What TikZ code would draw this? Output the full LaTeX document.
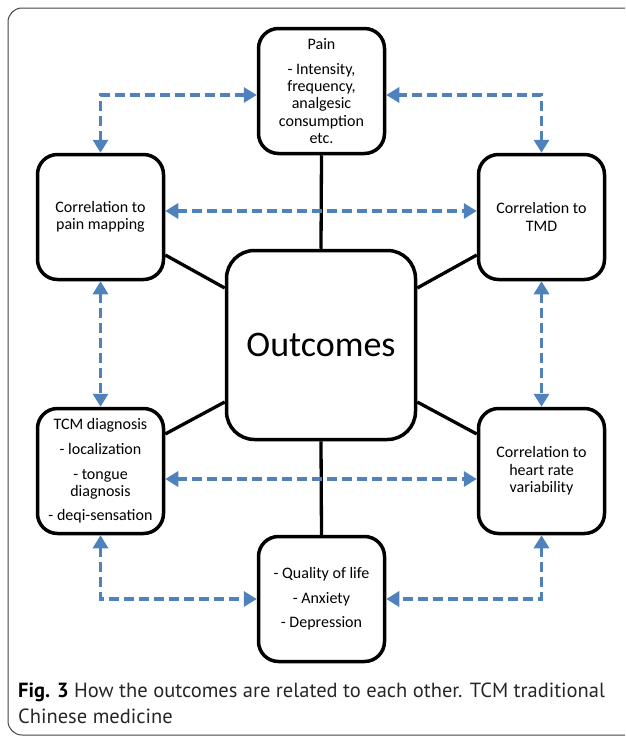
\documentclass[tikz,border=0pt]{standalone}
\usepackage{fontspec}
\setmainfont{Carlito}
\newfontfamily\capfont{PT Sans}
\usetikzlibrary{arrows.meta}
\definecolor{dblue}{HTML}{4F81BD}
\definecolor{framegray}{HTML}{444444}
\begin{document}
\begin{tikzpicture}[x=1pt,y=-1pt,
  box/.style={draw=black, line width=3.5pt, rounded corners=20pt, align=center,
    inner sep=0pt, minimum width=126pt, minimum height=125pt,
    font=\fontsize{16}{17.3}\selectfont},
  link/.style={draw=black, line width=3.3pt},
  darr/.style={draw=dblue, line width=3.3pt, dash pattern=on 10pt off 5pt,
    {Triangle[length=13pt,width=15pt]}-{Triangle[length=13pt,width=15pt]}},
  captext/.style={anchor=base west, inner sep=0pt, text=black!85,
    font=\capfont\fontsize{20.5}{26}\selectfont},
]
\useasboundingbox (0,0) rectangle (625,736);
\begin{scope}
  \clip (0,0) rectangle (625,736);
  \draw[framegray, line width=1pt, rounded corners=14pt] (8,8) rectangle (650,735);
\end{scope}

% nodes
\node[box] (pain) at (321.5,91) {Pain\\[7.5pt]- Intensity,\\frequency,\\analgesic\\consumption\\etc.};
\node[box] (lt) at (100.5,217) {Correlation to\\pain mapping};
\node[box] (rt) at (541.5,217) {Correlation to\\TMD};
\node[box, minimum width=189pt, minimum height=189pt, rounded corners=28pt,
  font=\fontsize{36}{40}\selectfont] (out) at (321,345) {Outcomes};
\node[box] (lb) at (100.5,471) {TCM diagnosis\\[7.5pt]- localization\\[7.5pt]- tongue\\diagnosis\\[7pt]- deqi-sensation};
\node[box] (rb) at (541.5,471) {Correlation to\\heart rate\\variability};
\node[box] (bot) at (321.5,599) {- Quality of life\\[7.5pt]- Anxiety\\[7pt]- Depression};

% helper coordinates
\coordinate (y95) at (0,95);
\coordinate (y211) at (0,211);
\coordinate (y479) at (0,479);
\coordinate (y255) at (0,255);
\coordinate (y288) at (0,288);
\coordinate (y402) at (0,402);
\coordinate (y434) at (0,434);

% solid connectors
\draw[link] (pain.south) -- (out.north);
\draw[link] (out.south) -- (bot.north);
\draw[link] (lt.east |- y255) -- (out.west |- y288);
\draw[link] (rt.west |- y255) -- (out.east |- y288);
\draw[link] (lb.east |- y434) -- (out.west |- y402);
\draw[link] (rb.west |- y434) -- (out.east |- y402);

% dashed double arrows
\draw[darr] (lt.north) |- (pain.west |- y95);
\draw[darr] (rt.north) |- (pain.east |- y95);
\draw[darr] (lt.east |- y211) -- (rt.west |- y211);
\draw[darr] (lt.south) -- (lb.north);
\draw[darr] (rt.south) -- (rb.north);
\draw[darr] (lb.east |- y479) -- (rb.west |- y479);
\draw[darr] (lb.south) |- (bot.west);
\draw[darr] (rb.south) |- (bot.east);

% caption
\node[captext] (cap1) at (18,697) {\textbf{\color{black}Fig. 3} How the outcomes are related to each other. TCM traditional};
\node[captext] (cap2) at (18,723) {Chinese medicine};
\end{tikzpicture}
\end{document}
